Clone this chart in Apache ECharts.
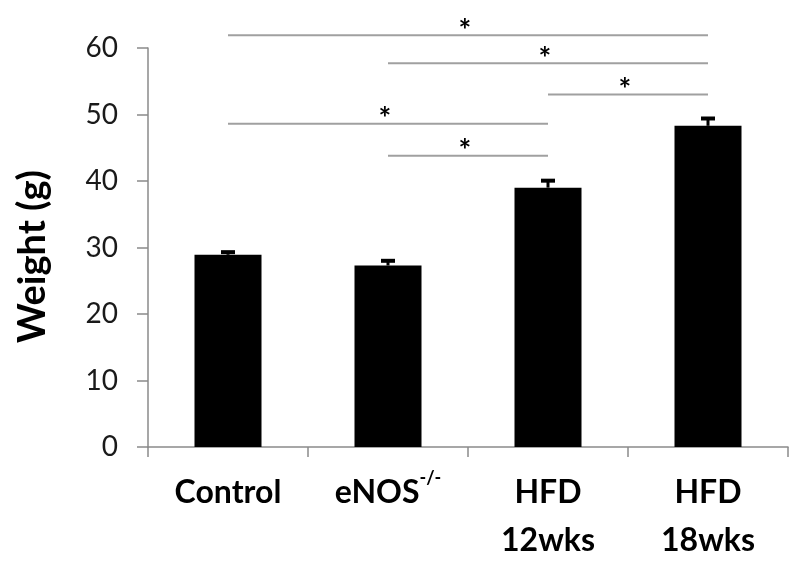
<!DOCTYPE html>
<html><head><meta charset="utf-8">
<script src="https://cdn.jsdelivr.net/npm/echarts@6/dist/echarts.min.js"></script>
<style>html,body{margin:0;padding:0;background:#fff}#c{width:800px;height:565px}</style>
</head><body><div id="c"></div>
<script>
const categories = ['Control', 'eNOS', 'HFD\n12wks', 'HFD\n18wks'];
const weights = [28.9, 27.3, 39.0, 48.3];
const errors = [0.7, 1.0, 1.35, 1.4];
const yTicks = [0, 10, 20, 30, 40, 50, 60];
// significance brackets: [fromIndex, toIndex, yLevel]
const brackets = [
  [0, 3, 61.9],
  [1, 3, 57.7],
  [2, 3, 53.0],
  [0, 2, 48.6],
  [1, 2, 43.8]
];

const chart = echarts.init(document.getElementById('c'));
const font = 'Lato, "Open Sans", sans-serif';
chart.setOption({
  animation: false,
  grid: { left: 148, right: 12, top: 48, bottom: 116 },
  xAxis: {
    type: 'category',
    data: categories,
    axisLine: { lineStyle: { color: '#8a8a8a', width: 1.5 } },
    axisTick: { show: true, length: 10, lineStyle: { color: '#8a8a8a', width: 1.5 } },
    axisLabel: {
      interval: 0, margin: 22, color: '#000', fontFamily: font, fontWeight: 'bold', fontSize: 32,
      lineHeight: 48,
      formatter: v => v === 'eNOS' ? '{b|eNOS}{s|-/-}' : v,
      rich: {
        b: { fontFamily: font, fontWeight: 'bold', fontSize: 32, color: '#000', lineHeight: 48 },
        s: { fontFamily: font, fontWeight: 'bold', fontSize: 18, color: '#000', verticalAlign: 'top', lineHeight: 30 }
      }
    }
  },
  yAxis: {
    type: 'value', min: 0, max: 60, interval: 10,
    name: 'Weight (g)', nameLocation: 'middle', nameGap: 96,
    nameTextStyle: { color: '#000', fontFamily: font, fontWeight: 'bold', fontSize: 38, padding: [0, 18, 0, 0] },
    axisLine: { show: true, lineStyle: { color: '#8a8a8a', width: 1.5 } },
    axisTick: { show: true, length: 11, lineStyle: { color: '#8a8a8a', width: 1.5 } },
    splitLine: { show: false },
    axisLabel: { margin: 30, color: '#1a1a1a', fontFamily: font, fontSize: 28,
      formatter: v => yTicks.includes(v) ? String(v) : '' }
  },
  series: [
    {
      type: 'bar', data: weights, barWidth: 67,
      itemStyle: { color: '#000' }
    },
    {
      type: 'custom',
      data: weights.map((w, i) => [i, w, w + errors[i]]),
      renderItem: (params, api) => {
        const i = api.value(0);
        const lo = api.coord([i, api.value(1)]);
        const hi = api.coord([i, api.value(2)]);
        return { type: 'group', children: [
          { type: 'line', shape: { x1: lo[0], y1: lo[1], x2: hi[0], y2: hi[1] + 2 }, style: { stroke: '#000', lineWidth: 3 } },
          { type: 'rect', shape: { x: hi[0] - 7, y: hi[1], width: 14, height: 4 }, style: { fill: '#000' } }
        ]};
      },
      z: 3
    },
    {
      type: 'custom', clip: false,
      data: brackets,
      renderItem: (params, api) => {
        const a = api.coord([api.value(0), api.value(2)]);
        const b = api.coord([api.value(1), api.value(2)]);
        const mx = (a[0] + b[0]) / 2;
        return { type: 'group', children: [
          { type: 'line', shape: { x1: a[0], y1: a[1], x2: b[0], y2: b[1] }, style: { stroke: '#a0a0a0', lineWidth: 2 } },
          { type: 'text', x: mx - 3, y: a[1] - 4, style: { text: '*', fill: '#000', font: 'bold 30px ' + font, align: 'center', verticalAlign: 'middle' } }
        ]};
      },
      z: 4
    }
  ]
});
</script></body></html>
